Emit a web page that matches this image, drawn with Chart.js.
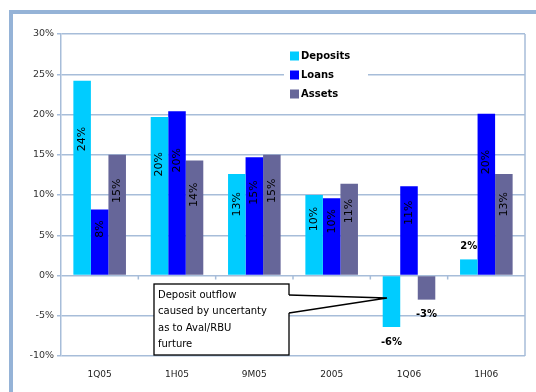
<!DOCTYPE html>
<html>
<head>
<meta charset="utf-8">
<script src="https://cdn.jsdelivr.net/npm/chart.js@4.4.1/dist/chart.umd.min.js"></script>
<style>
html,body{margin:0;padding:0;background:#fff;}
canvas{display:block;}
</style>
</head>
<body>
<canvas id="c" width="536" height="392"></canvas>
<script>
const categories = ['1Q05', '1H05', '9M05', '2005', '1Q06', '1H06'];
const deposits = [24.2, 19.7, 12.6, 10.0, -6.4, 2.0];
const loans = [8.2, 20.4, 14.7, 9.6, 11.1, 20.1];
const assets = [15.0, 14.3, 15.0, 11.4, -3.0, 12.6];
const seriesNames = ['Deposits', 'Loans', 'Assets'];
const noteLines = ['Deposit outflow', 'caused by uncertanty', 'as to Aval/RBU', 'furture'];

const GRID = '#A7BDD9';
const FONT = '"DejaVu Sans", Verdana, sans-serif';

const framePlugin = {
  id: 'frame',
  beforeDraw(chart) {
    const ctx = chart.ctx;
    ctx.save();
    ctx.fillStyle = '#fff';
    ctx.fillRect(0, 0, chart.width, chart.height);
    ctx.fillStyle = '#95B3D7';
    ctx.fillRect(9, 10, chart.width - 9, 4);
    ctx.fillRect(9, 10, 4, chart.height - 10);
    ctx.restore();
  },
  beforeDatasetsDraw(chart) {
    const ctx = chart.ctx, a = chart.chartArea;
    ctx.save();
    ctx.strokeStyle = GRID;
    ctx.lineWidth = 1.5;
    ctx.beginPath();
    ctx.moveTo(a.right, a.top);
    ctx.lineTo(a.right, a.bottom);
    ctx.stroke();
    const y0 = chart.scales.y.getPixelForValue(0);
    const n = categories.length;
    const w = (a.right - a.left) / n;
    ctx.beginPath();
    for (let i = 1; i < n; i++) {
      const x = a.left + i * w;
      ctx.moveTo(x, y0);
      ctx.lineTo(x, y0 + 4);
    }
    ctx.stroke();
    ctx.restore();
  },
  afterDatasetsDraw(chart) {
    const ctx = chart.ctx;
    ctx.save();
    ctx.fillStyle = '#000';
    chart.data.datasets.forEach((ds, di) => {
      const meta = chart.getDatasetMeta(di);
      meta.data.forEach((bar, i) => {
        const v = ds.data[i];
        const txt = Math.round(v) + '%';
        const p = bar.getProps(['x', 'y', 'base'], true);
        if (v < 0) {
          ctx.font = 'bold 10px ' + FONT;
          ctx.textAlign = 'center';
          ctx.textBaseline = 'top';
          ctx.fillText(txt, p.x, p.y + 10);
        } else if (v < 4) {
          ctx.font = 'bold 10px ' + FONT;
          ctx.textAlign = 'center';
          ctx.textBaseline = 'bottom';
          ctx.fillText(txt, p.x, p.y - 8);
        } else {
          const cy = p.y + 0.3 * (p.base - p.y);
          ctx.save();
          ctx.translate(p.x, cy);
          ctx.rotate(-Math.PI / 2);
          ctx.font = '11px ' + FONT;
          ctx.textAlign = 'center';
          ctx.textBaseline = 'middle';
          ctx.fillText(txt, 0, 0);
          ctx.restore();
        }
      });
    });

    ctx.fillStyle = '#fff';
    ctx.fillRect(284, 46, 84, 58);
    ctx.font = 'bold 10px ' + FONT;
    ctx.textAlign = 'left';
    ctx.textBaseline = 'middle';
    chart.data.datasets.forEach((ds, di) => {
      const cy = 56 + di * 19;
      ctx.fillStyle = ds.backgroundColor;
      ctx.fillRect(290, cy - 4.5, 9, 9);
      ctx.fillStyle = '#000';
      ctx.fillText(ds.label, 301, cy + 0.5);
    });

    ctx.lineWidth = 1.3;
    ctx.strokeStyle = '#000';
    ctx.fillStyle = '#fff';
    ctx.fillRect(154, 284, 135, 71);
    ctx.strokeRect(154, 284, 135, 71);
    ctx.beginPath();
    ctx.moveTo(288, 295);
    ctx.lineTo(387, 298);
    ctx.lineTo(288, 313);
    ctx.closePath();
    ctx.fill();
    ctx.beginPath();
    ctx.moveTo(289, 295);
    ctx.lineTo(387, 298);
    ctx.lineTo(289, 313);
    ctx.stroke();
    ctx.fillStyle = '#000';
    ctx.font = '10px ' + FONT;
    ctx.textAlign = 'left';
    ctx.textBaseline = 'middle';
    noteLines.forEach((t, i) => ctx.fillText(t, 158, 295.5 + i * 16.4));
    ctx.restore();
  }
};

new Chart(document.getElementById('c'), {
  type: 'bar',
  data: {
    labels: categories,
    datasets: [
      { label: seriesNames[0], data: deposits, backgroundColor: '#00CCFF' },
      { label: seriesNames[1], data: loans, backgroundColor: '#0000FF' },
      { label: seriesNames[2], data: assets, backgroundColor: '#666699' }
    ]
  },
  options: {
    responsive: false,
    animation: false,
    events: [],
    categoryPercentage: 0.68,
    barPercentage: 1.0,
    layout: { padding: { left: 0, top: 34, right: 11, bottom: 0 } },
    plugins: { legend: { display: false }, tooltip: { enabled: false }, title: { display: false } },
    scales: {
      x: {
        grid: { display: false, drawTicks: false },
        border: { display: false },
        ticks: { color: '#222', font: { family: FONT, size: 9 }, padding: 13, maxRotation: 0 },
        afterFit(s) { s.height = 36; }
      },
      y: {
        min: -10, max: 30,
        ticks: { stepSize: 5, color: '#333', font: { family: FONT, size: 9.5 }, padding: 3,
          callback: v => v + '%' },
        grid: { color: GRID, lineWidth: 1.5, tickLength: 4, tickColor: GRID },
        border: { display: true, color: GRID, width: 1.5 },
        afterFit(s) { s.width = 61; }
      }
    }
  },
  plugins: [framePlugin]
});
</script>
</body>
</html>
